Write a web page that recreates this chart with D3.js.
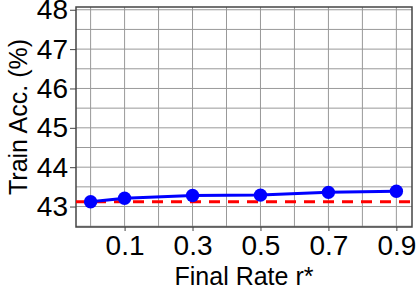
<!DOCTYPE html>
<html>
<head>
<meta charset="utf-8" />
<script src="https://cdnjs.cloudflare.com/ajax/libs/d3/7.8.5/d3.min.js"></script>
<style>
body { margin: 0; background: #fff; }
text { font-family: "Liberation Sans", Arial, sans-serif; fill: #000; }
</style>
</head>
<body>
<script>
var rates = [0.0, 0.1, 0.3, 0.5, 0.7, 0.9];
var trainAcc = [43.12, 43.21, 43.28, 43.29, 43.36, 43.39];
var baseline = 43.12;
var xTicks = [0.1, 0.3, 0.5, 0.7, 0.9];
var yTicks = [43, 44, 45, 46, 47, 48];

var W = 420, H = 300;
var margin = {top: 7, right: 8, bottom: 73, left: 76};
var width = W - margin.left - margin.right,
	height = H - margin.top - margin.bottom;

var svg = d3.select("body").append("svg")
	.attr("width", W).attr("height", H);

var g = svg.append("g").attr("transform", "translate(" + margin.left + "," + margin.top + ")");

var x = d3.scaleLinear().domain([-0.043, 0.946]).range([0, width]);
var y = d3.scaleLinear().domain([42.48, 48.07]).range([height, 0]);

// grid
g.append("g").selectAll("line").data(d3.range(0, 1.0, 0.1))
	.enter().append("line")
	.attr("x1", d => x(d)).attr("x2", d => x(d))
	.attr("y1", 0).attr("y2", height)
	.attr("stroke", "#999").attr("stroke-width", 1);
g.append("g").selectAll("line").data(d3.range(42.5, 48.01, 0.5))
	.enter().append("line")
	.attr("x1", 0).attr("x2", width)
	.attr("y1", d => y(d)).attr("y2", d => y(d))
	.attr("stroke", "#999").attr("stroke-width", 1);

// axes
var yAxis = g.append("g")
	.call(d3.axisLeft(y).tickValues(yTicks).tickFormat(d3.format("d")).tickSize(6).tickPadding(2));
var xAxis = g.append("g").attr("transform", "translate(0," + height + ")")
	.call(d3.axisBottom(x).tickValues(xTicks).tickFormat(d3.format(".1f")).tickSize(4).tickPadding(4));
[yAxis, xAxis].forEach(function(a) {
	a.select(".domain").remove();
	a.selectAll("line").attr("stroke", "#444");
	a.selectAll("text").attr("font-size", "28px").attr("font-family", "Liberation Sans, Arial, sans-serif").attr("fill", "#000");
});

// frame
g.append("rect").attr("width", width).attr("height", height)
	.attr("fill", "none").attr("stroke", "#444").attr("stroke-width", 1.5);

// baseline
g.append("line")
	.attr("x1", 0).attr("x2", width)
	.attr("y1", y(baseline)).attr("y2", y(baseline))
	.attr("stroke", "#ff0000").attr("stroke-width", 3).attr("stroke-dasharray", "11,8");

// series
var line = d3.line().x((d, i) => x(rates[i])).y(d => y(d));
g.append("path").datum(trainAcc)
	.attr("d", line).attr("fill", "none").attr("stroke", "#0000ff").attr("stroke-width", 3);
g.selectAll("circle").data(trainAcc).enter().append("circle")
	.attr("cx", (d, i) => x(rates[i])).attr("cy", d => y(d))
	.attr("r", 6.7).attr("fill", "#0000ff");

// labels
svg.append("text")
	.attr("x", margin.left + width / 2).attr("y", 285)
	.attr("text-anchor", "middle").attr("font-size", "25px")
	.text("Final Rate r*");
svg.append("text")
	.attr("transform", "translate(27," + (margin.top + height / 2) + ") rotate(-90)")
	.attr("text-anchor", "middle").attr("font-size", "25px")
	.text("Train Acc. (%)");
</script>
</body>
</html>
